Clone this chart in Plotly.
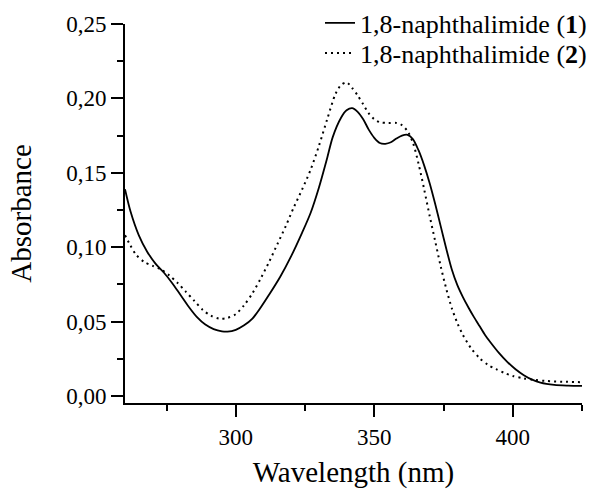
import plotly.graph_objects as go

wl1 = [260, 262, 265, 268, 271, 274, 277, 280, 283, 286, 289, 292, 295, 297, 300, 303, 306, 309, 312, 316,
       320, 324, 327, 330, 333, 335, 338, 340, 342, 344, 346, 348, 350, 352, 354, 356, 358, 360, 362, 364,
       366, 368, 370, 372, 374, 376, 378, 380, 382, 384, 386, 388, 390, 392, 395, 398, 401, 404, 407, 410,
       415, 420, 425]
abs1 = [0.139, 0.124, 0.108, 0.097, 0.089, 0.083, 0.076, 0.068, 0.060, 0.053, 0.048, 0.045, 0.0435, 0.0433, 0.0445,
        0.0475, 0.052, 0.0595, 0.068, 0.080, 0.094, 0.110, 0.123, 0.140, 0.160, 0.174, 0.187, 0.192, 0.1935, 0.191,
        0.186, 0.179, 0.1735, 0.170, 0.1695, 0.1705, 0.173, 0.1750, 0.1755, 0.1725, 0.165, 0.155, 0.143, 0.129,
        0.114, 0.099, 0.085, 0.0745, 0.0665, 0.0595, 0.053, 0.047, 0.041, 0.036, 0.029, 0.023, 0.018, 0.014, 0.011,
        0.009, 0.0075, 0.0070, 0.0068]

wl2 = [260, 262, 264, 267, 270, 273, 276, 279, 282, 285, 288, 291, 294, 297, 300, 303, 306, 309, 312, 315,
       318, 321, 324, 327, 330, 333, 336, 338, 340, 342, 344, 346, 348, 350, 352, 355, 358, 360, 362, 364,
       366, 368, 370, 372, 374, 376, 378, 380, 382, 385, 388, 391, 394, 397, 400, 404, 408, 412, 418, 425]
abs2 = [0.108, 0.101, 0.095, 0.090, 0.0875, 0.085, 0.081, 0.076, 0.070, 0.064, 0.058, 0.054, 0.052, 0.0525, 0.055,
        0.061, 0.069, 0.079, 0.090, 0.102, 0.114, 0.127, 0.139, 0.152, 0.168, 0.186, 0.203, 0.209, 0.2108, 0.207,
        0.202, 0.196, 0.190, 0.186, 0.184, 0.1835, 0.1835, 0.182, 0.178, 0.170, 0.156, 0.139, 0.121, 0.104,
        0.087, 0.072, 0.059, 0.049, 0.041, 0.032, 0.0255, 0.021, 0.018, 0.0155, 0.0135, 0.0118, 0.0108, 0.0101,
        0.0096, 0.0093]

names = ["1,8-naphthalimide (<b>1</b>)", "1,8-naphthalimide (<b>2</b>)"]

FONT = "Liberation Serif"

fig = go.Figure()
fig.add_trace(go.Scatter(x=wl1, y=abs1, mode="lines", name=names[0], legend="legend",
                         line=dict(color="black", width=1.8, shape="spline", smoothing=0.8)))
fig.add_trace(go.Scatter(x=wl2, y=abs2, mode="lines", name=names[1], legend="legend2",
                         line=dict(color="black", width=2, dash="2px,4px", shape="spline", smoothing=0.8)))

axis_common = dict(showline=True, linecolor="black", linewidth=2, ticks="outside", ticklen=12,
                   tickwidth=2, tickcolor="black", showgrid=False, zeroline=False,
                   tickfont=dict(family=FONT, size=23, color="black"))

fig.update_xaxes(range=[260, 425], tick0=300, dtick=50,
                 minor=dict(ticks="outside", ticklen=6, tickwidth=2, tickcolor="black", dtick=25, tick0=275),
                 title=dict(text="Wavelength (nm)", font=dict(family=FONT, size=29, color="black"), standoff=26),
                 **axis_common)
fig.update_yaxes(range=[-0.0047, 0.25], tick0=0, dtick=0.05, tickformat=".2f",
                 minor=dict(ticks="outside", ticklen=6, tickwidth=2, tickcolor="black", dtick=0.025, tick0=0),
                 title=dict(text="Absorbance", font=dict(family=FONT, size=29, color="black"), standoff=26),
                 **axis_common)

leg_common = dict(xref="container", yref="container", x=320 / 590, xanchor="left", yanchor="middle",
                  bgcolor="rgba(0,0,0,0)", font=dict(family=FONT, size=26, color="black"))

fig.update_layout(
    width=590, height=489,
    margin=dict(l=125, r=8, t=24, b=86, autoexpand=False),
    plot_bgcolor="white", paper_bgcolor="white",
    separators=",.",
    font=dict(family=FONT, color="black"),
    legend=dict(y=1 - 23 / 489, **leg_common),
    legend2=dict(y=1 - 53 / 489, **leg_common),
    showlegend=True,
)

fig.write_html("out.html")
